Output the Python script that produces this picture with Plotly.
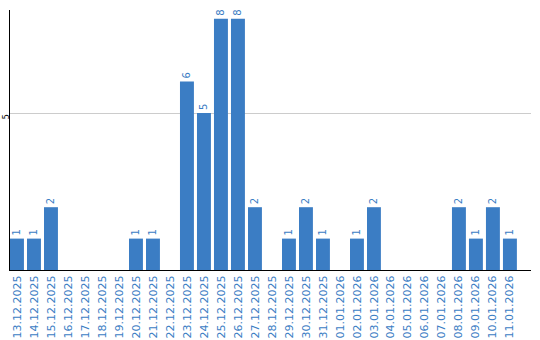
import plotly.graph_objects as go

dates = ["13.12.2025", "14.12.2025", "15.12.2025", "16.12.2025", "17.12.2025",
         "18.12.2025", "19.12.2025", "20.12.2025", "21.12.2025", "22.12.2025",
         "23.12.2025", "24.12.2025", "25.12.2025", "26.12.2025", "27.12.2025",
         "28.12.2025", "29.12.2025", "30.12.2025", "31.12.2025", "01.01.2026",
         "02.01.2026", "03.01.2026", "04.01.2026", "05.01.2026", "06.01.2026",
         "07.01.2026", "08.01.2026", "09.01.2026", "10.01.2026", "11.01.2026"]
values = [1, 1, 2, 0, 0, 0, 0, 1, 1, 0,
          6, 5, 8, 8, 2, 0, 1, 2, 1, 0,
          1, 2, 0, 0, 0, 0, 2, 1, 2, 1]
labels = [str(v) if v > 0 else "" for v in values]

BLUE = "#3b7dc4"

fig = go.Figure(go.Bar(
    x=dates, y=values, text=labels,
    textposition="outside", textangle=-90,
    textfont=dict(color=BLUE, size=10, family="DejaVu Sans"),
    marker=dict(color=BLUE, line=dict(width=0)),
    cliponaxis=False, constraintext="none",
))

fig.update_layout(
    width=540, height=340,
    margin=dict(l=10, r=9, t=10, b=70, autoexpand=False),
    paper_bgcolor="white", plot_bgcolor="white",
    bargap=0.18, showlegend=False,
    xaxis=dict(type="category", range=[-0.41, 30.24], tickangle=-90,
               tickfont=dict(color=BLUE, size=11, family="DejaVu Sans"),
               showline=True, linecolor="black", linewidth=1,
               showgrid=False, ticks="", ticklen=0, automargin=False),
    yaxis=dict(range=[0, 8.28], tickvals=[5], ticktext=["5"], tickangle=-90,
               tickfont=dict(color="black", size=8, family="DejaVu Sans"),
               showline=True, linecolor="black", linewidth=1,
               showgrid=True, gridcolor="#cccccc", zeroline=False,
               ticks="", ticklen=0, automargin=False, ticklabelstandoff=-3,
               ticklabelshift=5),
)

fig.write_html("out.html")
